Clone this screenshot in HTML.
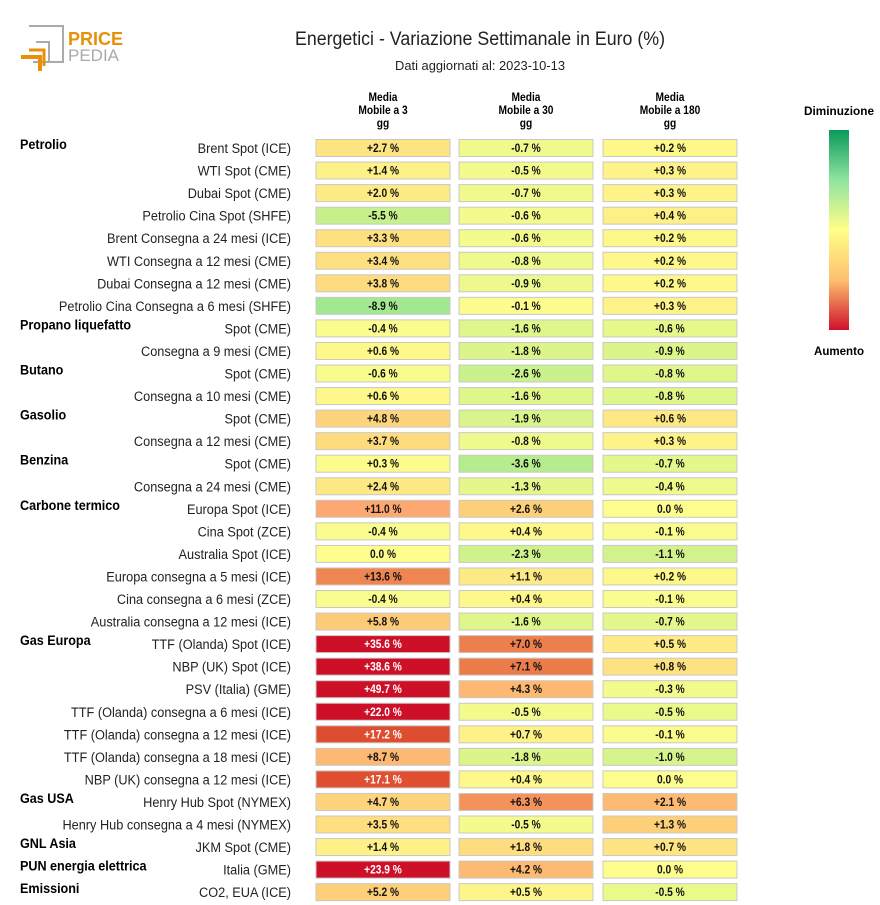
<!DOCTYPE html>
<html><head><meta charset="utf-8"><style>
body{margin:0;background:#fff;}
svg{display:block;font-family:"Liberation Sans",sans-serif;}
</style></head><body>
<svg id="c" width="880" height="905" viewBox="0 0 880 905" xmlns="http://www.w3.org/2000/svg">
<defs><linearGradient id="lg" x1="0" y1="0" x2="0" y2="1">
<stop offset="0" stop-color="#0a9a5a"/><stop offset="0.25" stop-color="#8fe3a0"/><stop offset="0.5" stop-color="#ffff88"/><stop offset="0.75" stop-color="#fdc070"/><stop offset="1" stop-color="#d0102a"/></linearGradient></defs>
<g>
<path d="M29 26 H63 V62 H33" fill="none" stroke="#aaa" stroke-width="2"/>
<path d="M36 42 H49 V62" fill="none" stroke="#aaa" stroke-width="2"/>
<path d="M21 57 H40 V71" fill="none" stroke="#e8900a" stroke-width="4"/>
<path d="M29 50 H44 V66" fill="none" stroke="#e8900a" stroke-width="3"/>
<text x="68" y="45" font-size="18" font-weight="bold" fill="#e8900a">PRICE</text>
<text x="68" y="61" font-size="17" fill="#aaa">PEDIA</text>
</g>
<text x="480" y="45" font-size="19" text-anchor="middle" fill="#222" textLength="370" lengthAdjust="spacingAndGlyphs">Energetici - Variazione Settimanale in Euro (%)</text>
<text x="480" y="70" font-size="13" text-anchor="middle" fill="#222" textLength="170" lengthAdjust="spacingAndGlyphs">Dati aggiornati al: 2023-10-13</text>
<g id="hdr"></g>
<g id="rows"></g>
<g>
<text x="839" y="115" font-size="12" font-weight="bold" text-anchor="middle" textLength="70" lengthAdjust="spacingAndGlyphs">Diminuzione</text>
<rect x="829" y="130" width="20" height="200" fill="url(#lg)"/>
<text x="839" y="355" font-size="12" font-weight="bold" text-anchor="middle" textLength="50" lengthAdjust="spacingAndGlyphs">Aumento</text>
</g>
</svg>
<script>
const groups=["Petrolio","","","","","","","","Propano liquefatto","","Butano","","Gasolio","","Benzina","","Carbone termico","","","","","","Gas Europa","","","","","","","Gas USA","","GNL Asia","PUN energia elettrica","Emissioni"];
const labels=["Brent Spot (ICE)","WTI Spot (CME)","Dubai Spot (CME)","Petrolio Cina Spot (SHFE)","Brent Consegna a 24 mesi (ICE)","WTI Consegna a 12 mesi (CME)","Dubai Consegna a 12 mesi (CME)","Petrolio Cina Consegna a 6 mesi (SHFE)","Spot (CME)","Consegna a 9 mesi (CME)","Spot (CME)","Consegna a 10 mesi (CME)","Spot (CME)","Consegna a 12 mesi (CME)","Spot (CME)","Consegna a 24 mesi (CME)","Europa Spot (ICE)","Cina Spot (ZCE)","Australia Spot (ICE)","Europa consegna a 5 mesi (ICE)","Cina consegna a 6 mesi (ZCE)","Australia consegna a 12 mesi (ICE)","TTF (Olanda) Spot (ICE)","NBP (UK) Spot (ICE)","PSV (Italia) (GME)","TTF (Olanda) consegna a 6 mesi (ICE)","TTF (Olanda) consegna a 12 mesi (ICE)","TTF (Olanda) consegna a 18 mesi (ICE)","NBP (UK) consegna a 12 mesi (ICE)","Henry Hub Spot (NYMEX)","Henry Hub consegna a 4 mesi (NYMEX)","JKM Spot (CME)","Italia (GME)","CO2, EUA (ICE)"];
const columns=["Media|Mobile a 3|gg","Media|Mobile a 30|gg","Media|Mobile a 180|gg"];
const ma3=[2.7,1.4,2.0,-5.5,3.3,3.4,3.8,-8.9,-0.4,0.6,-0.6,0.6,4.8,3.7,0.3,2.4,11.0,-0.4,0.0,13.6,-0.4,5.8,35.6,38.6,49.7,22.0,17.2,8.7,17.1,4.7,3.5,1.4,23.9,5.2];
const ma30=[-0.7,-0.5,-0.7,-0.6,-0.6,-0.8,-0.9,-0.1,-1.6,-1.8,-2.6,-1.6,-1.9,-0.8,-3.6,-1.3,2.6,0.4,-2.3,1.1,0.4,-1.6,7.0,7.1,4.3,-0.5,0.7,-1.8,0.4,6.3,-0.5,1.8,4.2,0.5];
const ma180=[0.2,0.3,0.3,0.4,0.2,0.2,0.2,0.3,-0.6,-0.9,-0.8,-0.8,0.6,0.3,-0.7,-0.4,0.0,-0.1,-1.1,0.2,-0.1,-0.7,0.5,0.8,-0.3,-0.5,-0.1,-1.0,0.0,2.1,1.3,0.7,0.0,-0.5];
const series=[ma3,ma30,ma180];
const factors=[1,2,4];
const NS="http://www.w3.org/2000/svg";
const stopsV=[-25,-9,-5.5,-3,0,2.7,5.8,8.7,11,13.6,17,22];
const stopsC=[[20,150,80],[160,232,144],[198,240,140],[225,246,138],[254,254,142],[254,229,130],[253,202,119],[253,184,114],[252,168,112],[239,133,80],[223,80,48],[205,16,40]];
function col(v){if(v<=stopsV[0])return stopsC[0];if(v>=stopsV[stopsV.length-1])return stopsC[stopsC.length-1];
for(let i=0;i<stopsV.length-1;i++){if(v<=stopsV[i+1]){const t=(v-stopsV[i])/(stopsV[i+1]-stopsV[i]);return stopsC[i].map((a,k)=>Math.round(a+(stopsC[i+1][k]-a)*t));}}}
const colX=[316,459,603], cw=134, ch=17;
function y(i){return 148+i*22.55;}
function mk(tag,at,parent){const e=document.createElementNS(NS,tag);for(const k in at)e.setAttribute(k,at[k]);parent.appendChild(e);return e;}
const hdr=document.getElementById('hdr');
columns.forEach((c,j)=>{c.split('|').forEach((l,k)=>{const t=mk('text',{x:0,y:0,transform:`translate(${colX[j]+cw/2},${101+k*13}) scale(0.85,1)`,'font-size':12,'font-weight':'bold','text-anchor':'middle'},hdr);


t.textContent=l;});});
const rows=document.getElementById('rows');
labels.forEach((lab,i)=>{
 const cy=y(i);
 if(groups[i]){const g=mk('text',{x:0,y:0,transform:`translate(20,${cy+1}) scale(0.9,1)`,'font-size':14,'font-weight':'bold'},rows);
 
 
 g.textContent=groups[i];}
 const t=mk('text',{x:0,y:0,transform:`translate(291,${cy+5}) scale(0.91,1)`,'font-size':14,'text-anchor':'end',fill:'#222'},rows);
 
 
 t.textContent=lab;
 series.forEach((s,j)=>{const v=s[i];const c=col(v*factors[j]);
  const r=mk('rect',{x:colX[j],y:cy-ch/2,width:cw,height:ch,fill:`rgb(${c})`,stroke:'#c8c8c8','stroke-width':1},rows);
  
  
  const dark=v*factors[j]>15;
  const tx=mk('text',{x:0,y:0,transform:`translate(${colX[j]+cw/2},${cy+4}) scale(0.85,1)`,'font-size':12,'font-weight':'bold','text-anchor':'middle',fill:dark?'#fff':'#111'},rows);
  
  
  tx.textContent=(v>0?'+':'')+v.toFixed(1)+' %';});
});
</script>
</body></html>
